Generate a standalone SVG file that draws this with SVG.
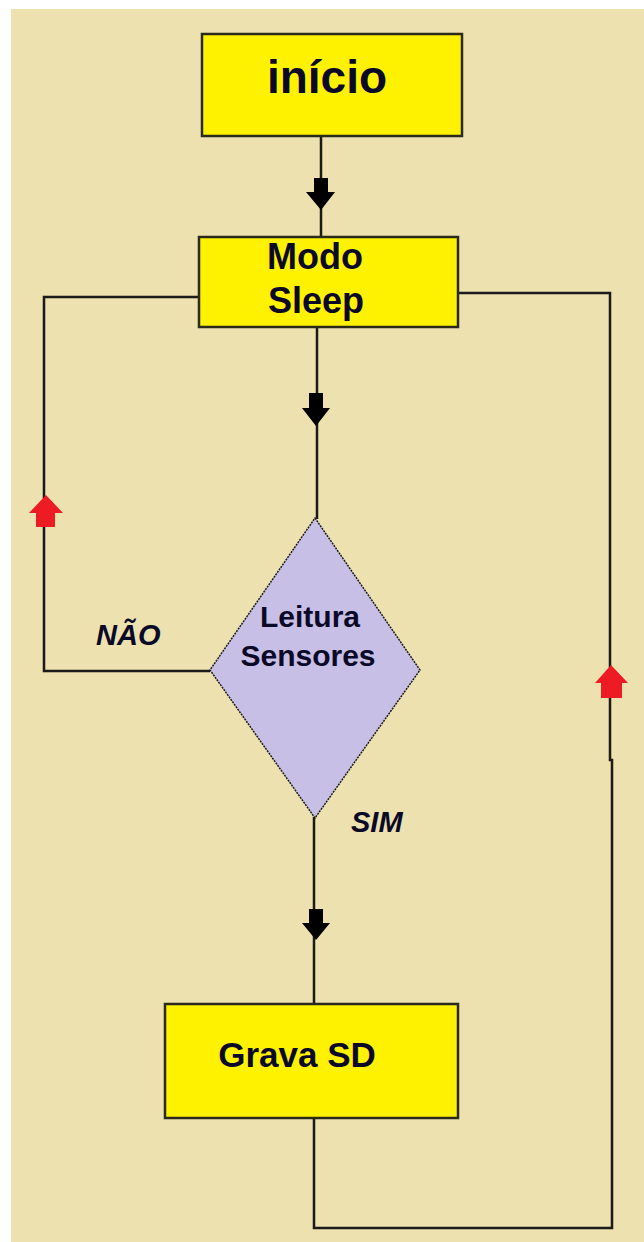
<svg xmlns="http://www.w3.org/2000/svg" width="644" height="1242" viewBox="0 0 644 1242">
<style>
.box{fill:#FFF200;stroke:#2a2a1a;stroke-width:2.5}
.dia{fill:#C8BFE6;stroke:#1a1a1a;stroke-width:1.5;stroke-dasharray:2 1}
.ln{fill:none;stroke:#1a1a1a;stroke-width:2.5}
.t{font-family:"Liberation Sans",Arial,sans-serif;font-weight:bold;fill:#0a0a28;text-anchor:middle}
.lab{font-family:"Liberation Sans",Arial,sans-serif;font-weight:bold;font-style:italic;fill:#0a0a28;font-size:29px}
.ab{fill:#000}
.ar{fill:#ED1C24}
</style>
<rect x="0" y="0" width="644" height="1242" fill="#fff"/>
<rect x="11" y="9" width="633" height="1233" fill="#EDE1AF"/>
<g id="connectors">
<line class="ln" x1="321" y1="136" x2="321" y2="237"/>
<polygon class="ab" points="314,178 328,178 328,192 335,192 321,210 306,192 314,192"/>
<line class="ln" x1="317" y1="327" x2="317" y2="519"/>
<polygon class="ab" points="309,393 323,393 323,408 330,408 316,426 302,408 309,408"/>
<polyline class="ln" points="199,297 44,297 44,671 210,671"/>
<polygon class="ar" points="36,527 55,527 55,513 63,513 46,495 29,513 36,513"/>
<polyline class="ln" points="458,293 610,293 610,760 612,760 612,1228 314,1228 314,1118"/>
<polygon class="ar" points="601,698 622,698 622,683 628,683 611,665 595,683 601,683"/>
<line class="ln" x1="314" y1="817" x2="314" y2="1004"/>
<polygon class="ab" points="309,909 323,909 323,923 330,923 316,940 302,923 309,923"/>
</g>
<g id="inicio">
<rect class="box" x="202" y="34" width="260" height="102"/>
<text class="t" x="327" y="93" font-size="46">início</text>
</g>
<g id="modo-sleep">
<rect class="box" x="199" y="237" width="259" height="90"/>
<text class="t" x="315" y="269" font-size="36">Modo</text>
<text class="t" x="316" y="313" font-size="36">Sleep</text>
</g>
<g id="leitura-sensores">
<polygon class="dia" points="315,518 420,670 315,818 210,670"/>
<text class="t" x="310" y="627" font-size="30">Leitura</text>
<text class="t" x="308" y="666" font-size="30">Sensores</text>
</g>
<g id="grava-sd">
<rect class="box" x="165" y="1004" width="293" height="114"/>
<text class="t" x="297" y="1067" font-size="35">Grava SD</text>
</g>
<g id="labels">
<text class="lab" x="96" y="645">NÃO</text>
<text class="lab" x="351" y="832">SIM</text>
</g>
</svg>
